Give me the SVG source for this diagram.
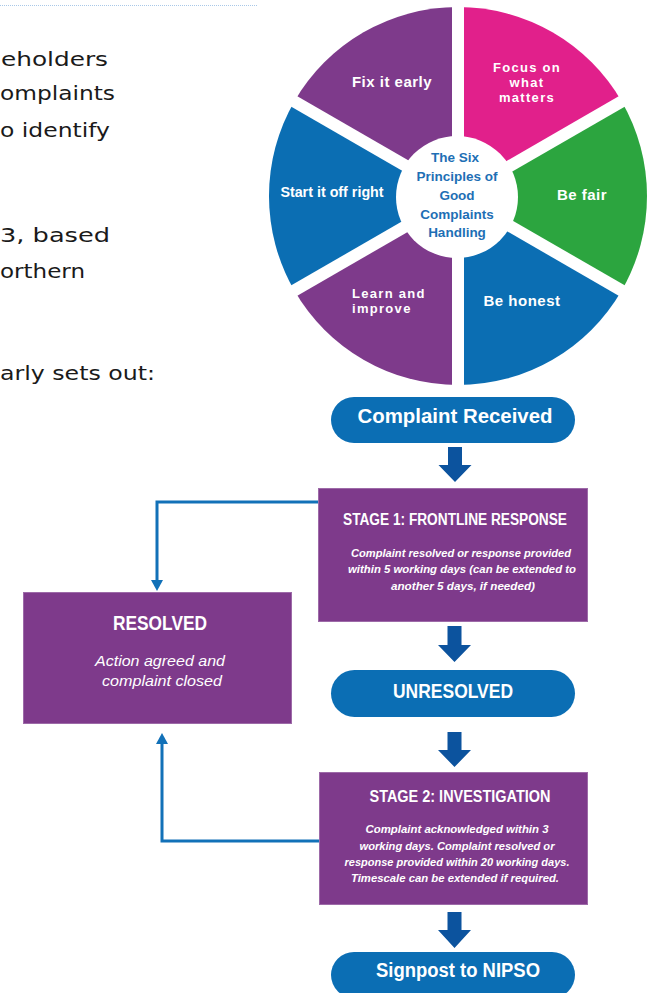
<svg xmlns="http://www.w3.org/2000/svg" width="648" height="993" viewBox="0 0 648 993">
<defs>
<style>
.body{font-family:"DejaVu Sans","Liberation Sans",sans-serif;font-size:20px;fill:#1a1a1a}
.wt{font-family:"Liberation Sans",Arial,sans-serif;font-weight:bold;fill:#fff}
.wl{font-size:15px;letter-spacing:0.5px;text-anchor:middle}
.wm{font-size:13px;letter-spacing:1.3px}
.ct{font-family:"Liberation Sans",Arial,sans-serif;font-weight:bold;font-size:13.5px;fill:#1e6fb5;text-anchor:middle}
.box{fill:#7e3a8b;stroke:#9d6aa8;stroke-width:1}
.pill{fill:#0b6eb4}
.pt{font-family:"Liberation Sans",Arial,sans-serif;font-weight:bold;font-size:20px;fill:#fff;text-anchor:middle}
.st{font-family:"Liberation Sans",Arial,sans-serif;font-weight:bold;font-size:16px;fill:#fff;text-anchor:middle}
.it{font-family:"Liberation Sans",Arial,sans-serif;font-weight:bold;font-style:italic;font-size:11px;fill:#fff;text-anchor:middle}
.ri{font-family:"Liberation Sans",Arial,sans-serif;font-style:italic;font-size:15px;fill:#fff;text-anchor:middle}
.barrow{fill:#0c539e}
.conn{fill:none;stroke:#1271b8;stroke-width:3}
.head{fill:#1271b8}
.gap{stroke:#fff;stroke-width:12}
</style>
</defs>
<rect width="648" height="993" fill="#fff"/>

<g id="page-text">
<line x1="0" y1="5.5" x2="258" y2="5.5" stroke="#a9c8e8" stroke-width="1" stroke-dasharray="1 1"/>
<text class="body" x="1" y="66" textLength="107" lengthAdjust="spacingAndGlyphs">eholders</text>
<text class="body" x="0" y="100" textLength="115" lengthAdjust="spacingAndGlyphs">omplaints</text>
<text class="body" x="0" y="137" textLength="110" lengthAdjust="spacingAndGlyphs">o identify</text>
<text class="body" x="0" y="242" textLength="110" lengthAdjust="spacingAndGlyphs">3, based</text>
<text class="body" x="0" y="278" textLength="85" lengthAdjust="spacingAndGlyphs">orthern</text>
<text class="body" x="0" y="380" textLength="155" lengthAdjust="spacingAndGlyphs">arly sets out:</text>
</g>

<g id="wheel">
<g id="seg-focus"><path d="M458,196 L621.68,101.5 A189,189 0 0 0 458,7 Z" fill="#e1208b"/></g>
<g id="seg-fix"><path d="M458,196 L458,7 A189,189 0 0 0 294.32,101.5 Z" fill="#7e3a8b"/></g>
<g id="seg-start"><path d="M458,196 L294.32,101.5 A189,189 0 0 0 294.32,290.5 Z" fill="#0b6eb3"/></g>
<g id="seg-learn"><path d="M458,196 L294.32,290.5 A189,189 0 0 0 458,385 Z" fill="#7e3a8b"/></g>
<g id="seg-honest"><path d="M458,196 L458,385 A189,189 0 0 0 621.68,290.5 Z" fill="#0b6eb3"/></g>
<g id="seg-fair"><path d="M458,196 L621.68,290.5 A189,189 0 0 0 621.68,101.5 Z" fill="#2ca53f"/></g>
<line class="gap" x1="458" y1="0" x2="458" y2="392"/>
<line class="gap" x1="631.2" y1="96" x2="284.8" y2="296"/>
<line class="gap" x1="631.2" y1="296" x2="284.8" y2="96"/>
<circle cx="457" cy="197" r="61" fill="#fff"/>
<text class="wt wl" x="392" y="87">Fix it early</text>
<text class="wt wm" x="527" y="72" text-anchor="middle">Focus on</text>
<text class="wt wm" x="527" y="87" text-anchor="middle">what</text>
<text class="wt wm" x="527" y="102" text-anchor="middle">matters</text>
<text class="wt" x="332" y="197" font-size="14.3" text-anchor="middle">Start it off right</text>
<text class="wt wl" x="582" y="200">Be fair</text>
<text class="wt wm" x="352" y="298">Learn and</text>
<text class="wt wm" x="352" y="313">improve</text>
<text class="wt wl" x="522" y="306">Be honest</text>
<text class="ct" x="455" y="162">The Six</text>
<text class="ct" x="457" y="181">Principles of</text>
<text class="ct" x="457" y="200">Good</text>
<text class="ct" x="457" y="218.5">Complaints</text>
<text class="ct" x="457" y="237">Handling</text>
</g>

<g id="complaint-received">
<rect class="pill" x="331" y="397" width="244" height="46" rx="23"/>
<text class="pt" x="455" y="423" textLength="195" lengthAdjust="spacingAndGlyphs">Complaint Received</text>
</g>

<g id="stage1">
<rect class="box" x="318.5" y="488.5" width="269" height="133"/>
<text class="st" x="455" y="525" textLength="224" lengthAdjust="spacingAndGlyphs">STAGE 1: FRONTLINE RESPONSE</text>
<text class="it" x="461" y="557" textLength="220" lengthAdjust="spacingAndGlyphs">Complaint resolved or response provided</text>
<text class="it" x="462" y="573" textLength="228" lengthAdjust="spacingAndGlyphs">within 5 working days (can be extended to</text>
<text class="it" x="463" y="590" textLength="144" lengthAdjust="spacingAndGlyphs">another 5 days, if needed)</text>
</g>

<g id="unresolved">
<rect class="pill" x="331" y="670" width="244" height="47" rx="23.5"/>
<text class="pt" x="453" y="698" textLength="120" lengthAdjust="spacingAndGlyphs">UNRESOLVED</text>
</g>

<g id="stage2">
<rect class="box" x="319.5" y="772.5" width="268" height="132"/>
<text class="st" x="460" y="802" textLength="181" lengthAdjust="spacingAndGlyphs">STAGE 2: INVESTIGATION</text>
<text class="it" x="457" y="833" textLength="183" lengthAdjust="spacingAndGlyphs">Complaint acknowledged within 3</text>
<text class="it" x="457" y="850" textLength="195" lengthAdjust="spacingAndGlyphs">working days. Complaint resolved or</text>
<text class="it" x="457" y="866" textLength="225" lengthAdjust="spacingAndGlyphs">response provided within 20 working days.</text>
<text class="it" x="455" y="882" textLength="208" lengthAdjust="spacingAndGlyphs">Timescale can be extended if required.</text>
</g>

<g id="signpost">
<rect class="pill" x="331" y="952" width="244" height="46" rx="23"/>
<text class="pt" x="458" y="977" textLength="164" lengthAdjust="spacingAndGlyphs">Signpost to NIPSO</text>
</g>

<g id="resolved">
<rect class="box" x="23.5" y="592.5" width="268" height="131"/>
<text class="pt" x="160" y="630" textLength="94" lengthAdjust="spacingAndGlyphs">RESOLVED</text>
<text class="ri" x="160" y="666" textLength="130" lengthAdjust="spacingAndGlyphs">Action agreed and</text>
<text class="ri" x="162" y="686" textLength="120" lengthAdjust="spacingAndGlyphs">complaint closed</text>
</g>

<g id="connectors">
<path class="barrow" d="M448,447 H462 V465 H471.5 L455,482 L438.5,465 H448 Z"/>
<path class="barrow" d="M447.5,626 H461.5 V645 H471 L454.5,662 L438,645 H447.5 Z"/>
<path class="barrow" d="M447.5,732 H461.5 V750 H471 L454.5,767 L438,750 H447.5 Z"/>
<path class="barrow" d="M447.5,912 H461.5 V930 H471 L454.5,948 L438,930 H447.5 Z"/>
<path class="conn" d="M318,502 H157 V581"/>
<path class="head" d="M151,580 L163,580 L157,591 Z"/>
<path class="conn" d="M319,841 H162 V743"/>
<path class="head" d="M156,744 L168,744 L162,733 Z"/>
</g>
</svg>
